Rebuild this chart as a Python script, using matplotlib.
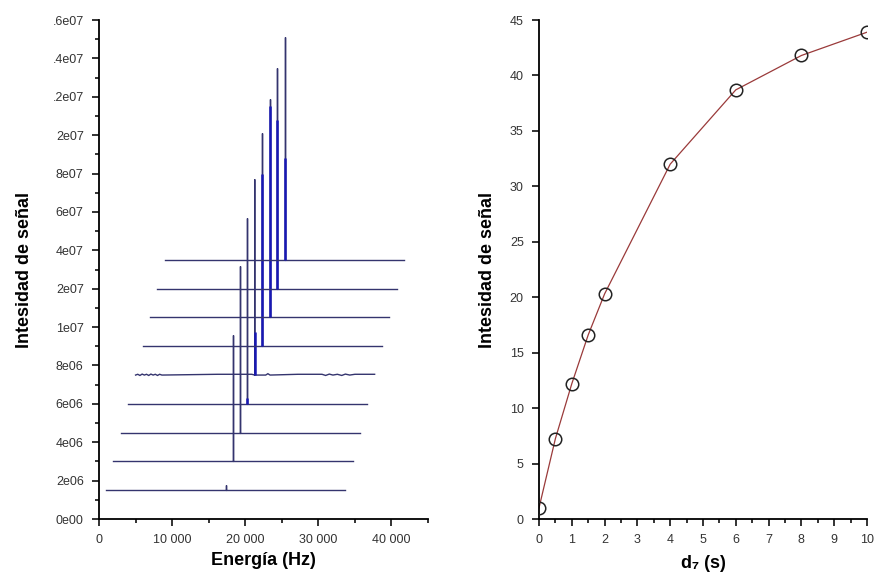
import matplotlib
matplotlib.use("Agg")
import matplotlib.pyplot as plt
import numpy as np

plt.rcParams["font.family"] = ["Liberation Sans", "DejaVu Sans"]

# --- left panel: stacked spectra (offset in x by 1000 Hz and in y by 1.5e6 each) ---
trace_start = [1000, 1900, 3000, 4000, 5000, 6000, 7000, 8000, 9000]
trace_end = [33600, 34700, 35700, 36700, 37700, 38700, 39700, 40700, 41700]
baselines = [1.5e6, 3.0e6, 4.5e6, 6.0e6, 7.5e6, 9.0e6, 10.5e6, 12.0e6, 13.5e6]
peak_pos = [17350, 18350, 19350, 20300, 21300, 22300, 23400, 24400, 25400]
peak_tip = [0.26e6, 6.6e6, 8.7e6, 9.7e6, 10.2e6, 11.1e6, 11.4e6, 11.5e6, 11.6e6]
peak_core = [0.0, 0.0, 0.0, 0.3e6, 2.25e6, 9.0e6, 11.0e6, 8.8e6, 5.3e6]

# hand-read wiggles on the noisy fifth trace (x in Hz, dy in counts)
noise_x = [5000, 5300, 5600, 5900, 6200, 6500, 6800, 7100, 7400, 7700, 8000, 8300, 8600,
           16200, 20900, 22800, 23100, 23400, 27200, 30500, 31000, 31500, 32000, 32600,
           33200, 33700, 34300, 35000, 37700]
noise_dy = [0, 0.04e6, -0.02e6, 0.05e6, 0, 0.04e6, -0.02e6, 0.05e6, 0, 0.04e6, -0.02e6, 0.04e6, 0,
            0.04e6, 0.04e6, 0, 0.07e6, 0, 0.04e6, 0.04e6, -0.02e6, 0.05e6, 0, 0.04e6,
            -0.02e6, 0.05e6, 0, 0.04e6, 0.04e6]

ytick_vals = np.arange(0, 2.6e7 + 1, 2e6)
ytick_labels = ["0e00", "2e06", "4e06", "6e06", "8e06", "1e07", "2e07",
                "4e07", "6e07", "8e07", "2e07", ".2e07", ".4e07", ".6e07"]
xtick_vals = [0, 10000, 20000, 30000, 40000]
xtick_labels = ["0", "10 000", "20 000", "30 000", "40 000"]

# --- right panel: signal vs d7 ---
d7 = [0, 0.5, 1, 1.5, 2, 4, 6, 8, 10]
signal = [1.0, 7.25, 12.2, 16.6, 20.3, 32.0, 38.7, 41.8, 43.9]

navy = "#34346e"
core_blue = "#1818b4"
tick_color = "#333333"

fig = plt.figure(figsize=(8.74, 5.82), dpi=100)
ax1 = fig.add_axes([99 / 874, 63 / 582, 329 / 874, 499 / 582])
ax2 = fig.add_axes([539 / 874, 63 / 582, 328 / 874, 499 / 582])

for i in range(len(baselines)):
    b = baselines[i]
    xs = [trace_start[i], peak_pos[i], peak_pos[i], peak_pos[i], trace_end[i]]
    ys = [b, b, b + peak_tip[i], b, b]
    if i == 4:
        # noisy trace: insert hand-read wiggles
        pts = sorted(zip(noise_x, noise_dy))
        xs, ys = [], []
        for x, dy in pts:
            if x < peak_pos[i]:
                xs.append(x)
                ys.append(b + dy)
        xs += [peak_pos[i], peak_pos[i], peak_pos[i]]
        ys += [b, b + peak_tip[i], b]
        for x, dy in pts:
            if x > peak_pos[i]:
                xs.append(x)
                ys.append(b + dy)
    ax1.plot(xs, ys, color=navy, linewidth=1.0, solid_joinstyle="miter")
    if peak_core[i] > 0:
        ax1.plot([peak_pos[i], peak_pos[i]], [b, b + peak_core[i]],
                 color=core_blue, linewidth=1.8, solid_capstyle="butt")

ax1.set_xlim(0, 45000)
ax1.set_ylim(0, 2.6e7)
ax1.set_yticks(ytick_vals)
ax1.set_yticklabels(ytick_labels)
ax1.set_yticks(np.arange(1e6, 2.6e7, 2e6), minor=True)
ax1.set_xticks(xtick_vals)
ax1.set_xticklabels(xtick_labels)
ax1.set_xticks([5000, 15000, 25000, 35000, 45000], minor=True)
ax1.set_xlabel("Energía (Hz)", fontsize=13, fontweight="bold", labelpad=4)
ax1.set_ylabel("Intesidad de señal", fontsize=13, fontweight="bold", labelpad=14)

ax2.plot(d7, signal, color="#9a3a3a", linewidth=0.9, zorder=2)
ax2.plot(d7, signal, linestyle="none", marker="o", markersize=9,
         markerfacecolor="none", markeredgecolor="#222222", markeredgewidth=1.1, zorder=3)
ax2.set_xlim(0, 10)
ax2.set_ylim(0, 45)
ax2.set_xticks(range(0, 11))
ax2.set_xticks(np.arange(0.5, 10, 1), minor=True)
ax2.set_yticks(range(0, 46, 5))
ax2.set_xlabel("d₇ (s)", fontsize=13, fontweight="bold", labelpad=6)
ax2.set_ylabel("Intesidad de señal", fontsize=13, fontweight="bold", labelpad=10)

for ax in (ax1, ax2):
    ax.spines["top"].set_visible(False)
    ax.spines["right"].set_visible(False)
    ax.spines["left"].set_linewidth(1.3)
    ax.spines["bottom"].set_linewidth(1.3)
    ax.tick_params(which="major", direction="out", length=5, width=1.2,
                   labelsize=9, colors="#111111", labelcolor=tick_color, pad=6)
    ax.tick_params(which="minor", direction="out", length=3, width=1.2, colors="#111111")
    for lab in ax.get_xticklabels() + ax.get_yticklabels():
        lab.set_clip_on(False)

fig.savefig("out.png", dpi=100)
